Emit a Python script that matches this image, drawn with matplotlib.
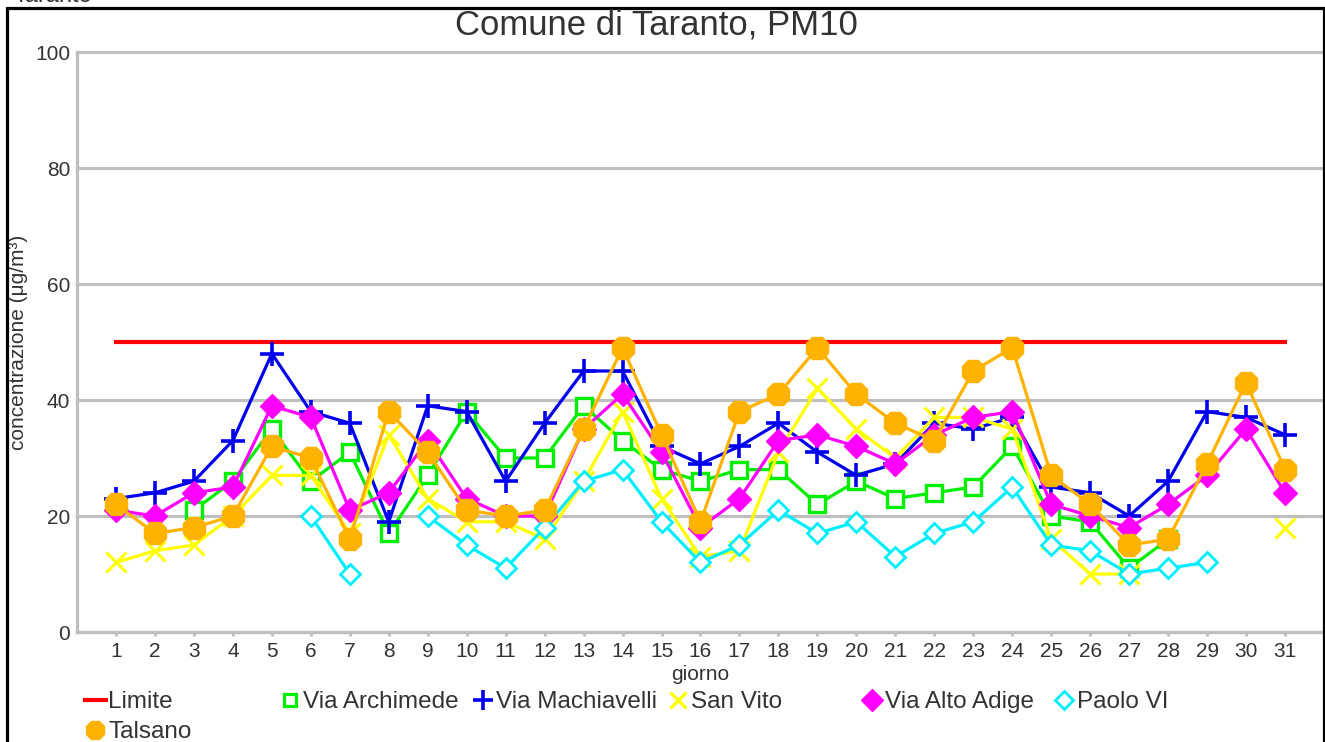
import matplotlib.pyplot as plt
from matplotlib.lines import Line2D
from matplotlib.patches import Rectangle
import numpy as np

nan = np.nan
giorni = list(range(1, 32))
limite = [50] * 31
via_archimede = [nan, nan, 21, 26, 35, 26, 31, 17, 27, 38, 30, 30, 39, 33, 28, 26,
                 28, 28, 22, 26, 23, 24, 25, 32, 20, 19, 11, 16, nan, nan, nan]
via_machiavelli = [23, 24, 26, 33, 48, 38, 36, 19, 39, 38, 26, 36, 45, 45, 32, 29,
                   32, 36, 31, 27, 29, 36, 35, 37, 25, 24, 20, 26, 38, 37, 34]
san_vito = [12, 14, 15, 20, 27, 27, 17, 34, 23, 19, 19, 16, 26, 38, 23, 13,
            14, 31, 42, 35, 30, 37, 37, 35, 16, 10, 10, nan, nan, nan, 18]
via_alto_adige = [21, 20, 24, 25, 39, 37, 21, 24, 33, 23, 20, 20, 35, 41, 31, 18,
                  23, 33, 34, 32, 29, 34, 37, 38, 22, 20, 18, 22, 27, 35, 24]
paolo_vi = [nan, nan, nan, nan, nan, 20, 10, nan, 20, 15, 11, 18, 26, 28, 19, 12,
            15, 21, 17, 19, 13, 17, 19, 25, 15, 14, 10, 11, 12, nan, nan]
talsano = [22, 17, 18, 20, 32, 30, 16, 38, 31, 21, 20, 21, 35, 49, 34, 19,
           38, 41, 49, 41, 36, 33, 45, 49, 27, 22, 15, 16, 29, 43, 28]

W, H = 1325, 742
plt.rcParams['font.family'] = ['Liberation Sans', 'DejaVu Sans']
fig = plt.figure(figsize=(W / 100, H / 100), dpi=100)
ax = fig.add_axes([77 / W, 1 - 632 / H, 1247 / W, 580 / H])

lw = 2.3
ax.plot(giorni, limite, color='#ff0000', lw=3, zorder=2)
ax.plot(giorni, via_archimede, color='#00ee00', lw=lw, marker='s', ms=12,
        mfc='white', mec='#00ee00', mew=2.4, zorder=3)
ax.plot(giorni, via_machiavelli, color='#0000ee', lw=lw, marker='+', ms=17,
        mew=2.6, zorder=4)
ax.plot(giorni, san_vito, color='#ffff00', lw=lw, marker='x', ms=14,
        mew=2.2, zorder=5)
ax.plot(giorni, via_alto_adige, color='#ff00ff', lw=lw, marker='D', ms=12,
        zorder=6)
ax.plot(giorni, paolo_vi, color='#00eeff', lw=lw, marker='D', ms=10.5,
        mfc='white', mec='#00eeff', mew=2.0, zorder=7)
ax.plot(giorni, talsano, color='#ffb300', lw=lw, marker='8', ms=17, zorder=8)

ax.set_xlim(0, 32)
ax.set_ylim(0, 100)
ax.set_xticks(giorni)
ax.set_yticks([0, 20, 40, 60, 80, 100])
ax.tick_params(axis='x', length=3, width=2, color='#bfbfbf', pad=4,
               labelsize=15, labelcolor='#333333')
ax.tick_params(axis='y', length=0, pad=5, labelsize=15, labelcolor='#333333')
ax.yaxis.grid(True, color='#bfbfbf', lw=2.3)
for gl in ax.get_ygridlines():
    gl.set_clip_on(False)
ax.set_axisbelow(True)
for s in ['top', 'right']:
    ax.spines[s].set_visible(False)
for s in ['left', 'bottom']:
    ax.spines[s].set_color('#bfbfbf')
    ax.spines[s].set_linewidth(2.3)

ax.set_xlabel('giorno', fontsize=15, color='#333333', labelpad=3)
ax.set_ylabel('concentrazione (μg/m³)', fontsize=15, color='#333333')
ax.yaxis.set_label_coords(-0.039, 0.5)

fig.text(656 / W, 1 - 25 / H, 'Comune di Taranto, PM10', ha='center', va='center',
         fontsize=25, color='#333333')
fig.text(13 / W, 1 - 2 / H, 'Taranto', ha='left', va='baseline',
         fontsize=17, color='#333333')

# cornice nera
fig.patches.append(Rectangle((7 / W, -0.1), 1317 / W, 1.1 - 8 / H,
                             transform=fig.transFigure, fill=False,
                             edgecolor='black', lw=2.3))

# legenda a griglia
voci = [
    (Line2D([], [], color='#ff0000', lw=3), 'Limite', 96, 702),
    (Line2D([], [], ls='none', marker='s', ms=9, mfc='white', mec='#00ee00', mew=2.3),
     'Via Archimede', 291, 702),
    (Line2D([], [], ls='none', marker='+', ms=14, mec='#0000ee', mew=2.6),
     'Via Machiavelli', 484, 702),
    (Line2D([], [], ls='none', marker='x', ms=12, mec='#ffff00', mew=2.4),
     'San Vito', 679, 702),
    (Line2D([], [], ls='none', marker='D', ms=11, mfc='#ff00ff', mec='#ff00ff'),
     'Via Alto Adige', 873, 702),
    (Line2D([], [], ls='none', marker='D', ms=9, mfc='white', mec='#00eeff', mew=2.0),
     'Paolo VI', 1065, 702),
    (Line2D([], [], ls='none', marker='8', ms=14, color='#ffb300'),
     'Talsano', 96, 732),
]
for h, lab, xm, ym in voci:
    leg = fig.legend(handles=[h], labels=[lab], loc='center left',
                     bbox_to_anchor=((xm - 11) / W, 1 - ym / H), frameon=False,
                     fontsize=17.5, handlelength=0.85, handletextpad=0.1,
                     borderpad=0, borderaxespad=0)
    for t in leg.get_texts():
        t.set_color('#333333')

fig.savefig('out.png', dpi=100)
